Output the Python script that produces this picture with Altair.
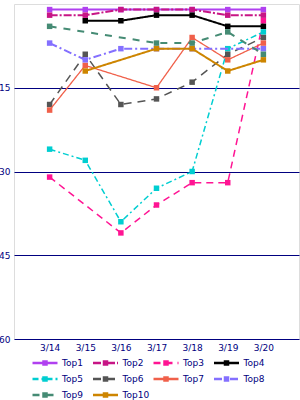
import altair as alt
import pandas as pd

dates = ["3/14", "3/15", "3/16", "3/17", "3/18", "3/19", "3/20"]
series_names = ["Top1", "Top2", "Top3", "Top4", "Top5", "Top6", "Top7", "Top8", "Top9", "Top10"]

top1 = [1, 1, 1, 1, 1, 1, 1]
top2 = [2, 2, 1, 1, 1, 2, 2]
top3 = [31, None, 41, 36, 32, 32, 3]
top4 = [None, 3, 3, 2, 2, 4, 4]
top5 = [26, 28, 39, 33, 30, 8, 5]
top6 = [18, 9, 18, 17, 14, 9, 6]
top7 = [19, 11, None, 15, 6, 10, 7]
top8 = [7, 10, 8, 8, 8, None, 8]
top9 = [4, None, None, 7, 7, 5, 9]
top10 = [None, 12, None, 8, 8, 12, 10]
all_values = [top1, top2, top3, top4, top5, top6, top7, top8, top9, top10]

y_ticks = [15, 30, 45, 60]

colors = ["#b040f0", "#c71585", "#ff1493", "#000000", "#00ced1",
          "#555555", "#f0604a", "#8470ff", "#458b74", "#cd8500"]
dashes = [[1, 0], [8, 2, 2, 2], [7, 5], [1, 0], [6, 3, 2, 3],
          [8, 6], [1, 0], [8, 3, 2, 3], [7, 7], [1, 0]]
widths = [2, 2, 1.5, 2, 1.5, 1.5, 1.3, 2, 2, 2]
num_labels = [str(i + 1) for i in range(len(series_names))]

rows = []
for name, num, vals in zip(series_names, num_labels, all_values):
    for d, v in zip(dates, vals):
        if v is not None:
            rows.append({"date": d, "value": v, "series": name, "num": num})
df = pd.DataFrame(rows)

NAVY = "#000080"
FONT = "DejaVu Sans"

x_enc = alt.X("date:N", sort=dates,
              scale=alt.Scale(type="point", padding=1, domain=dates),
              axis=alt.Axis(title=None, labelAngle=0, ticks=False, domain=False, grid=False,
                            labelColor=NAVY, labelFont=FONT, labelFontSize=9, labelPadding=4))
y_enc = alt.Y("value:Q",
              scale=alt.Scale(domain=[0, 60], reverse=True, nice=False, zero=False),
              axis=alt.Axis(title=None, values=y_ticks, grid=True, gridColor=NAVY, gridOpacity=1,
                            gridWidth=1, ticks=False, domain=False, labelColor=NAVY,
                            labelFont=FONT, labelFontSize=9, labelPadding=4))

common = dict(title=None, orient="none", direction="horizontal", columns=4, symbolSize=625,
              symbolStrokeWidth=2.5, clipHeight=12, rowPadding=4, columnPadding=2.5,
              labelFont=FONT, labelFontSize=9, labelColor=NAVY, labelOffset=3,
              gridAlign="all", legendY=353)

line_legend = alt.Legend(symbolType="stroke", legendX=17, **common)
sq_legend = alt.Legend(symbolType="M-0.22,-0.22H0.22V0.22H-0.22Z", legendX=17,
                       labelOpacity=0, labelExpr="'Top' + datum.label",
                       symbolStrokeColor="transparent", **common)

color_scale = alt.Scale(domain=series_names, range=colors)
dash_scale = alt.Scale(domain=series_names, range=dashes)
fill_scale = alt.Scale(domain=num_labels, range=colors)

layers = []
for i, name in enumerate(series_names):
    base = alt.Chart(df).transform_filter(alt.datum.series == name)
    line = base.mark_line(strokeWidth=widths[i]).encode(
        x=x_enc, y=y_enc,
        color=alt.Color("series:N", scale=color_scale, legend=line_legend),
        strokeDash=alt.StrokeDash("series:N", scale=dash_scale, legend=line_legend),
    )
    pts = base.mark_square(size=30, opacity=1).encode(
        x=x_enc, y=y_enc,
        fill=alt.Fill("num:N", scale=fill_scale, legend=sq_legend),
    )
    layers += [line, pts]

chart = alt.layer(*layers).properties(
    width=285, height=335,
    autosize=alt.AutoSizeParams(type="none"),
    padding={"left": 14, "top": 4, "right": 1, "bottom": 61},
).configure_view(stroke=NAVY, strokeWidth=1).configure(background="white")

chart.save("out.html", embed_options={"renderer": "svg", "actions": False})
